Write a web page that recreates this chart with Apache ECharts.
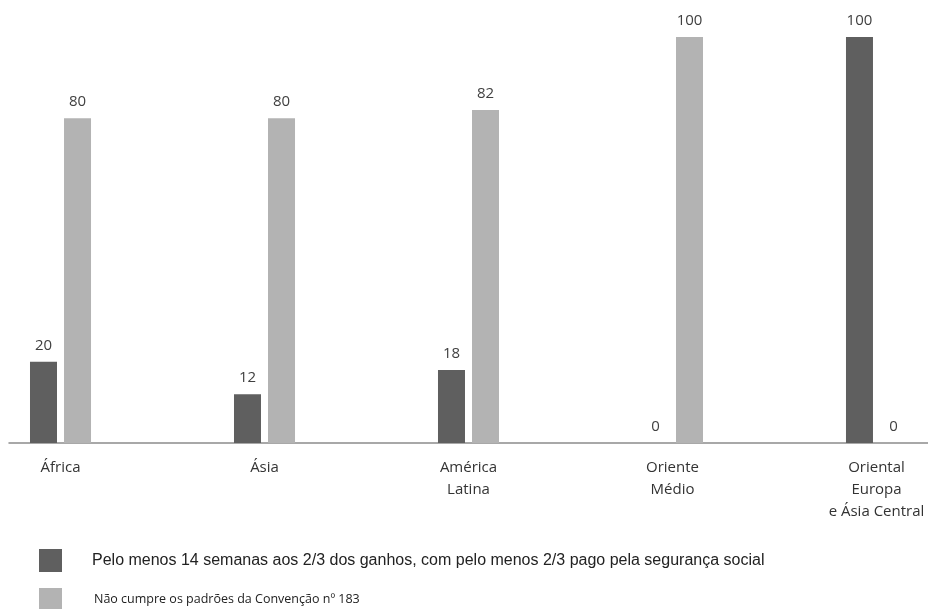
<!DOCTYPE html>
<html>
<head>
<meta charset="utf-8">
<script src="https://cdn.jsdelivr.net/npm/echarts@6/dist/echarts.min.js"></script>
<style>
  html, body { margin: 0; padding: 0; background: #fff; }
  #chart { width: 928px; height: 609px; }
</style>
</head>
<body>
<div id="chart"></div>
<script>
const regions = ['África', 'Ásia', 'América\nLatina', 'Oriente\nMédio', 'Oriental\nEuropa\ne Ásia Central']
const seriesNames = [
  'Pelo menos 14 semanas aos 2/3 dos ganhos, com pelo menos 2/3 pago pela segurança social',
  'Não cumpre os padrões da Convenção nº 183'
]
const compliant = [20, 12, 18, 0, 100]
const notCompliant = [80, 80, 82, 100, 0]

const chart = echarts.init(document.getElementById('chart'))

// bars sit on a value x axis so the plot edges can be cut like the original
const positions = regions.map((_, i) => i)

const labelStyle = {
  show: true,
  position: 'top',
  distance: 9,
  fontFamily: 'Open Sans',
  fontSize: 15,
  color: '#404040'
}

const legendBase = {
  orient: 'vertical',
  left: 39,
  padding: 0,
  itemWidth: 23,
  itemHeight: 23,
  icon: 'rect'
}

chart.setOption({
  animation: false,
  grid: { left: 9, right: 0, top: 37, bottom: 166 },
  legend: [
    {
      ...legendBase,
      top: 549,
      textStyle: { fontFamily: 'Liberation Sans', fontSize: 16, color: '#222', padding: [0, 0, 0, 25] },
      data: [seriesNames[0]]
    },
    {
      ...legendBase,
      top: 588,
      textStyle: { fontFamily: 'Open Sans', fontSize: 12.5, color: '#222', padding: [0, 0, 0, 27] },
      data: [seriesNames[1]]
    }
  ],
  xAxis: {
    type: 'value',
    min: -0.2525,
    max: 4.2525,
    splitLine: { show: false },
    axisLine: { onZero: false, lineStyle: { color: '#8c8c8c', width: 1.5 } },
    axisTick: { show: false },
    axisLabel: {
      customValues: positions,
      formatter: (v) => regions[Math.round(v)],
      fontFamily: 'Open Sans',
      fontSize: 15,
      lineHeight: 22,
      color: '#333',
      margin: 14
    }
  },
  yAxis: {
    type: 'value',
    min: 0,
    max: 100,
    show: false,
    splitLine: { show: false }
  },
  series: [
    {
      name: seriesNames[0],
      type: 'bar',
      data: positions.map((p, i) => [p, compliant[i]]),
      barWidth: 27,
      barGap: '26%',
      itemStyle: { color: '#5f5f5f' },
      label: labelStyle
    },
    {
      name: seriesNames[1],
      type: 'bar',
      data: positions.map((p, i) => [p, notCompliant[i]]),
      barWidth: 27,
      barGap: '26%',
      itemStyle: { color: '#b3b3b3' },
      label: labelStyle
    }
  ]
})
</script>
</body>
</html>
